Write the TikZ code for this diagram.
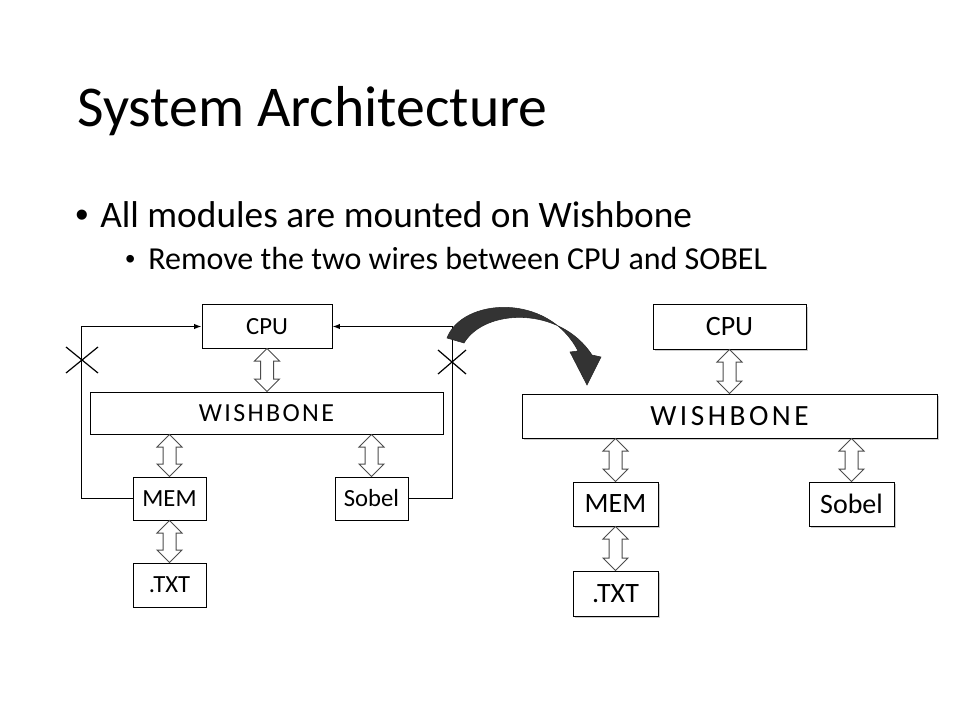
\documentclass[tikz,border=0pt]{standalone}
\usepackage{fontspec}
\setmainfont{Carlito}
\newfontfamily\wbfont[LetterSpace=9]{Carlito}
\newfontfamily\wbfontr[LetterSpace=12]{Carlito}
\newfontfamily\bulfont{Liberation Sans}
\usetikzlibrary{calc,arrows.meta,shadows}
\tikzset{
  box/.style={draw=black, line width=0.75pt, fill=white, inner sep=0pt},
  lbox/.style={box, font=\fontsize{18.5}{21}\selectfont},
  rbox/.style={box, font=\fontsize{21}{24}\selectfont,
    drop shadow={shadow xshift=1.2pt, shadow yshift=-1.2pt, fill=black!40, opacity=0.5}},
  wire/.style={line width=0.9pt, -{Latex[length=5.5pt,width=4pt]}},
  cross/.style={line width=0.9pt},
  dblarr/.style={draw=black!70, line width=0.75pt, fill=white, line join=miter},
  bigarrow/.style={fill=black!80, draw=black!85, line width=0.4pt},
  txt/.style={anchor=base west, inner sep=0pt}
}
\newcommand\dblarrow[2]{%
  \coordinate (da) at (#1);
  \coordinate (db) at (#2);
  \draw[dblarr] (da) -- ++(12.5,12.5) -- ++(-6,0) -- ($(db)+(6.5,-12.5)$) -- ++(6,0) -- (db)
    -- ++(-12.5,-12.5) -- ++(6,0) -- ($(da)+(-6.5,12.5)$) -- ++(-6,0) -- cycle;}
\begin{document}
\begin{tikzpicture}[x=0.75pt,y=-0.75pt]
\useasboundingbox (0,0) rectangle (960,720);

% title and bullets
\node[txt, font=\fontsize{43.3}{50}\selectfont] (title) at (77,127) {System Architecture};
\node[txt, font=\bulfont\fontsize{28}{32}\selectfont] (b1dot) at (75,228) {•};
\node[txt, font=\fontsize{28}{32}\selectfont] (b1) at (100,228) {All modules are mounted on Wishbone};
\node[txt, font=\bulfont\fontsize{21}{24}\selectfont] (b2dot) at (125,269) {•};
\node[txt, font=\fontsize{24}{28}\selectfont] (b2) at (148,270) {Remove the two wires between CPU and SOBEL};

% left diagram
\node[lbox, minimum width=97.5pt, minimum height=32.25pt] (lcpu) at (267,326.5) {CPU};
\node[lbox, minimum width=264.75pt, minimum height=31.5pt, font=\wbfont\fontsize{19.5}{22}\selectfont] (lwb) at (266.5,413) {WISHBONE};
\node[lbox, minimum width=54.75pt, minimum height=32.25pt] (lmem) at (169.5,498.5) {MEM};
\node[lbox, minimum width=54.75pt, minimum height=32.25pt] (lsob) at (371.5,498.5) {Sobel};
\node[lbox, minimum width=54.75pt, minimum height=33pt] (ltxt) at (169.5,585) {.TXT};

\dblarrow{lcpu.south}{lcpu.south |- lwb.north}
\dblarrow{lwb.south -| lmem.north}{lmem.north}
\dblarrow{lwb.south -| lsob.north}{lsob.north}
\dblarrow{lmem.south}{ltxt.north}

\draw[wire] (lmem.west) -- ++(-51,0) |- (lcpu.west);
\draw[wire] (lsob.east) -- ++(44,0) |- (lcpu.east);

\coordinate (xl) at (82,360);
\coordinate (xr) at (452,362);
\draw[cross] ($(xl)+(-16,-13)$) -- ($(xl)+(16,13)$);
\draw[cross] ($(xl)+(-16,13)$) -- ($(xl)+(16,-13)$);
\draw[cross] ($(xr)+(-14,-12)$) -- ($(xr)+(14,12)$);
\draw[cross] ($(xr)+(-14,12)$) -- ($(xr)+(14,-12)$);

% curved arrow
\path[bigarrow] (447,338) .. controls (462,298) and (548,292) .. (578,351)
  -- (570,352) -- (587,385) -- (601,357) -- (592,355)
  .. controls (560,306) and (485,308) .. (464,343) -- cycle;

% right diagram
\node[rbox, minimum width=114.75pt, minimum height=33pt] (rcpu) at (729.5,327) {CPU};
\node[rbox, minimum width=311.25pt, minimum height=33pt, font=\wbfontr\fontsize{22}{25}\selectfont] (rwb) at (729.5,416) {WISHBONE};
\node[rbox, minimum width=63.75pt, minimum height=33pt] (rmem) at (615.5,504) {MEM};
\node[rbox, minimum width=63.75pt, minimum height=33pt] (rsob) at (851.5,504) {Sobel};
\node[rbox, minimum width=63.75pt, minimum height=33.75pt] (rtxt) at (615.5,593.5) {.TXT};

\dblarrow{rcpu.south}{rcpu.south |- rwb.north}
\dblarrow{rwb.south -| rmem.north}{rmem.north}
\dblarrow{rwb.south -| rsob.north}{rsob.north}
\dblarrow{rmem.south}{rtxt.north}
\end{tikzpicture}
\end{document}
